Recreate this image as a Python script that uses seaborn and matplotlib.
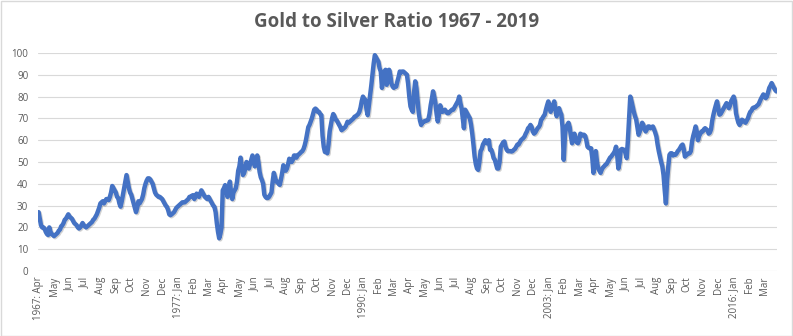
import numpy as np
import pandas as pd
import matplotlib
matplotlib.use("Agg")
import matplotlib.pyplot as plt
from matplotlib.patches import Rectangle
import matplotlib.patheffects as pe
import seaborn as sns

# Monthly gold/silver ratio, Apr 1967 .. Jan 2019
y1967 = [27, 24, 21, 20, 20, 19.5, 18, 17, 16.5]  # Apr..Dec
y1968 = [20, 18, 17, 16.5, 16, 16.5, 17, 17.5, 18.5, 19, 20.5, 21]
y1969 = [22, 23.5, 24, 25, 26, 25, 24.5, 24, 23, 22, 21.5, 21]
y1970 = [20, 19.5, 20, 21, 22, 21, 20.5, 20, 20.5, 21, 21.5, 22]
y1971 = [22.5, 23.5, 24, 25, 26, 27.5, 29, 31, 31.5, 32, 31, 32]
y1972 = [33, 33, 32.5, 34, 36, 39, 38, 37, 36, 34, 33.5, 31]
y1973 = [29.5, 32, 35, 38, 41, 44, 41, 38, 36, 35, 33, 31]
y1974 = [29, 27, 29, 32, 31, 32, 33, 35, 38, 40, 41.5, 42.5]
y1975 = [42.5, 42, 41, 40, 38, 36, 35, 34.5, 34, 34, 33.5, 33]
y1976 = [32, 31, 30, 29.4, 28, 26, 25.6, 26, 26.5, 27, 28, 29]
y1977 = [29.5, 30, 30.5, 31, 31.5, 31.5, 31.5, 32, 32.5, 33, 34, 34]
y1978 = [34.5, 34.8, 33, 34, 35.5, 35, 34, 35.5, 37, 36, 35, 34]
y1979 = [33.5, 33, 34, 33, 32, 31, 30, 29.4, 27, 22, 18, 15]
y1980 = [17, 20, 37, 38, 39.4, 37, 34, 38, 41, 36, 33, 36]
y1981 = [37, 38, 41, 46, 48, 52, 48, 44, 45, 47, 50, 48]
y1982 = [47, 49, 51, 53, 51, 48, 50, 53, 50, 45.5, 43, 41.7]
y1983 = [40, 35, 34, 33.5, 33.5, 34, 35, 36, 41, 45, 43, 41]
y1984 = [41, 40, 39.5, 42, 45, 48.5, 47, 46, 47, 49, 51.5, 51]
y1985 = [50, 51, 53, 53, 52, 53, 53.5, 54, 54.6, 55, 56, 57.7]
y1986 = [60, 63, 66, 67, 68.5, 70, 72, 74, 74.5, 74, 73, 73]
y1987 = [72, 71.5, 62, 57, 54.6, 55, 54, 58, 64, 67, 70, 72]
y1988 = [71, 69.5, 69, 68, 67, 66, 64.6, 65, 65.5, 66, 67, 68.5]
y1989 = [68, 68.5, 69, 69.5, 70, 70.8, 71, 71.5, 72, 73, 75, 78]
y1990 = [80, 79, 78.5, 74, 71.5, 76, 80.8, 85, 90, 95, 99, 98]
y1991 = [97, 96, 93, 91.5, 84, 88, 91.5, 92.3, 85.4, 88, 92.3, 90]
y1992 = [86, 84.6, 84, 84.6, 84.6, 87, 89, 91.5, 91, 91.5, 91.5, 91]
y1993 = [90.5, 90, 86, 80, 75.5, 74, 73, 82, 87, 84, 78, 72.4]
y1994 = [69, 67, 68, 68.6, 68.6, 69, 69, 69.4, 72, 76, 79, 82.4]
y1995 = [80, 77, 72, 68.6, 72, 76, 74, 73, 73.5, 74, 73, 72.4]
y1996 = [72.4, 73, 73.5, 74, 74, 75, 76, 77, 78, 80, 77, 74.7]
y1997 = [70, 65.5, 74, 73, 72, 71, 70, 67, 63, 58, 52.5, 49]
y1998 = [47, 46.4, 50, 55, 56, 58, 59, 60, 58.6, 59, 60, 55.6]
y1999 = [55.6, 54, 51.8, 51, 49, 47, 47, 50, 57, 58, 59, 59.4]
y2000 = [57, 55.6, 55, 55, 55, 54.8, 55, 55.6, 56, 57, 58, 58]
y2001 = [59, 60, 60.5, 61, 61.7, 63, 64, 65.5, 66, 67, 66, 64]
y2002 = [63, 63.5, 64.5, 65.5, 66, 67, 69.4, 70, 71, 71.7, 74, 76]
y2003 = [77.8, 76, 73, 75, 76, 77.8, 74, 71, 73, 74.7, 73, 71.7]
y2004 = [66, 51, 62, 66.3, 67, 68, 66, 62, 58.6, 61, 63, 61]
y2005 = [59, 58.6, 60, 63, 62, 62.5, 62.5, 62, 60, 57, 56.5, 56.3]
y2006 = [56.3, 52, 45, 50, 55, 50, 47, 46, 45, 46.5, 47.5, 48]
y2007 = [48.7, 49, 50, 51, 52, 52.5, 53.3, 54, 55, 57, 53, 47]
y2008 = [50, 55.6, 56, 55.6, 55.6, 54, 51.8, 60, 70, 80, 78, 75.5]
y2009 = [73, 71, 69.4, 66, 62.5, 64, 66, 68, 67, 65, 64, 65]
y2010 = [66.3, 66.3, 65.5, 66, 66.3, 65, 63.5, 61.7, 58, 55, 52.5, 50]
y2011 = [48, 44, 37, 31, 41.8, 48, 53.3, 54, 54, 53, 53.5, 53.3]
y2012 = [54, 55, 55.6, 56.5, 57.5, 58, 56, 52.5, 53, 53.5, 54, 54]
y2013 = [55, 59.4, 62, 64, 66.3, 64, 60, 62, 63, 64, 64, 65]
y2014 = [65.5, 65, 64.5, 63, 63.5, 65, 69, 71.7, 74, 76, 77.8, 75]
y2015 = [71.7, 72, 73, 74, 75, 76, 77, 76, 74.7, 76, 78, 79]
y2016 = [80, 78, 72.4, 70, 68, 67, 68, 69.4, 69, 68.5, 68, 69]
y2017 = [70, 71.7, 73, 73.5, 74.7, 75, 75, 75.5, 76, 76.5, 77.8, 79]
y2018 = [80, 81, 80, 79.3, 80, 82, 84, 85, 86.2, 85, 84, 83]
y2019 = [82.4]

yearly = [y1967, y1968, y1969, y1970, y1971, y1972, y1973, y1974, y1975, y1976,
          y1977, y1978, y1979, y1980, y1981, y1982, y1983, y1984, y1985, y1986,
          y1987, y1988, y1989, y1990, y1991, y1992, y1993, y1994, y1995, y1996,
          y1997, y1998, y1999, y2000, y2001, y2002, y2003, y2004, y2005, y2006,
          y2007, y2008, y2009, y2010, y2011, y2012, y2013, y2014, y2015, y2016,
          y2017, y2018, y2019]
ratio = [v for row in yearly for v in row]

tick_labels = ["1967: Apr", "May", "Jun", "Jul", "Aug", "Sep", "Oct", "Nov", "Dec",
               "1977: Jan", "Feb", "Mar", "Apr", "May", "Jun", "Jul", "Aug", "Sep",
               "Oct", "Nov", "Dec",
               "1990: Jan", "Feb", "Mar", "Apr", "May", "Jun", "Jul", "Aug", "Sep",
               "Oct", "Nov", "Dec",
               "2003: Jan", "Feb", "Mar", "Apr", "May", "Jun", "Jul", "Aug", "Sep",
               "Oct", "Nov", "Dec",
               "2016: Jan", "Feb", "Mar"]
tick_step = 13
y_ticks = list(range(0, 101, 10))
title = "Gold to Silver Ratio 1967 - 2019"

sns.set_theme(style="white")
plt.rcParams['font.family'] = ['Open Sans', 'DejaVu Sans']

W, H = 793, 336
fig = plt.figure(figsize=(W / 100, H / 100), dpi=100)
ax = fig.add_axes([38 / W, 1 - 271 / H, 739 / W, (271 - 53) / H])

df = pd.DataFrame({"month": np.arange(len(ratio)), "ratio": ratio})
sns.lineplot(data=df, x="month", y="ratio", ax=ax, color="#4472C4",
             linewidth=3.2, solid_joinstyle="round", solid_capstyle="round",
             path_effects=[pe.SimpleLineShadow(offset=(0.8, -0.8), alpha=0.18, shadow_color="#000000"),
                           pe.Normal()])

n = len(ratio)
ax.set_xlim(-0.5, n - 0.5)
ax.set_ylim(0, 100)
ax.set_yticks(y_ticks)
ax.set_yticklabels([str(t) for t in y_ticks])
ax.set_xticks([i * tick_step for i in range(len(tick_labels))])
ax.set_xticklabels(tick_labels, rotation=90, va="top", ha="center")
ax.grid(axis="y", color="#D9D9D9", linewidth=0.8)
ax.grid(axis="x", visible=False)
ax.set_axisbelow(True)
for s in ax.spines.values():
    s.set_visible(False)
ax.tick_params(axis="both", length=0, labelsize=7, colors="#595959")
ax.tick_params(axis="y", pad=7)
ax.tick_params(axis="x", pad=4)
ax.set_xlabel("")
ax.set_ylabel("")

fig.text(0.5, 1 - 22 / H, title, ha="center", va="center", fontsize=13.5,
         color="#595959", fontweight="bold")
fig.patches.append(Rectangle((0.5 / W, 0.5 / H), 1 - 1.5 / W, 1 - 1.5 / H,
                             transform=fig.transFigure, fill=False,
                             edgecolor="#D9D9D9", linewidth=1))

fig.savefig("out.png", dpi=100)
